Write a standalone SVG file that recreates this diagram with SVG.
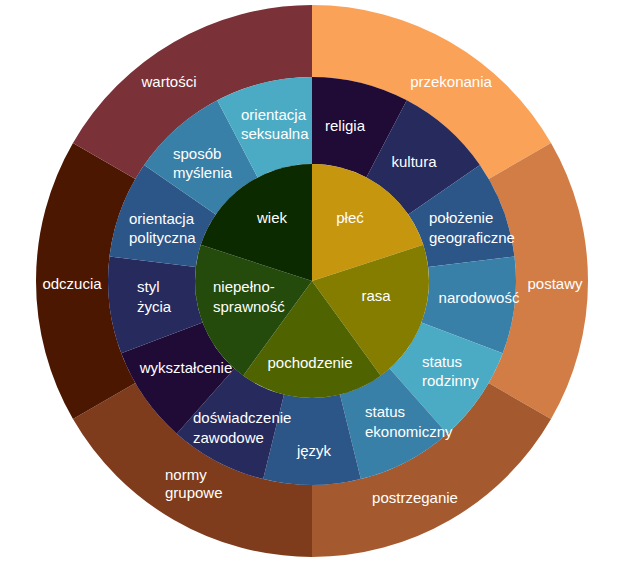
<svg xmlns="http://www.w3.org/2000/svg" width="638" height="562" viewBox="0 0 638 562">
<style>
text{font-family:"Liberation Sans",Arial,sans-serif;font-size:15px;fill:#ffffff}
.m{text-anchor:middle}
</style>
<rect width="638" height="562" fill="#ffffff"/>
<g id="outer-ring">
<g id="przekonania"><path d="M312 5 A276 276 0 0 1 551.023 143 L488.669 179 A204 204 0 0 0 312 77 Z" fill="#FBA259"/><text x="451" y="87" class="m">przekonania</text></g>
<g id="postawy"><path d="M551.023 143 A276 276 0 0 1 551.023 419 L488.669 383 A204 204 0 0 0 488.669 179 Z" fill="#D27D45"/><text x="555" y="289" class="m">postawy</text></g>
<g id="postrzeganie"><path d="M551.023 419 A276 276 0 0 1 312 557 L312 485 A204 204 0 0 0 488.669 383 Z" fill="#A45A2E"/><text x="415" y="503" class="m">postrzeganie</text></g>
<g id="normy-grupowe"><path d="M312 557 A276 276 0 0 1 72.977 419 L135.331 383 A204 204 0 0 0 312 485 Z" fill="#7E3C1D"/><text x="165" y="480">normy</text><text x="165" y="498">grupowe</text></g>
<g id="odczucia"><path d="M72.977 419 A276 276 0 0 1 72.977 143 L135.331 179 A204 204 0 0 0 135.331 383 Z" fill="#4C1700"/><text x="72" y="289" class="m">odczucia</text></g>
<g id="wartosci"><path d="M72.977 143 A276 276 0 0 1 312 5 L312 77 A204 204 0 0 0 135.331 179 Z" fill="#7B3138"/><text x="169" y="87" class="m">wartości</text></g>
</g>
<g id="middle-ring">
<g id="religia"><path d="M312 77 A204 204 0 0 1 406.80 100.37 L366.37 177.40 A117 117 0 0 0 312 164 Z" fill="#1F0B36"/><text x="345" y="131" class="m">religia</text></g>
<g id="kultura"><path d="M406.80 100.37 A204 204 0 0 1 479.89 165.11 L408.29 214.54 A117 117 0 0 0 366.37 177.40 Z" fill="#262A5C"/><text x="414" y="167" class="m">kultura</text></g>
<g id="polozenie-geograficzne"><path d="M479.89 165.11 A204 204 0 0 1 514.51 256.41 L428.15 266.90 A117 117 0 0 0 408.29 214.54 Z" fill="#2C5588"/><text x="429" y="223">położenie</text><text x="429" y="243">geograficzne</text></g>
<g id="narodowosc"><path d="M514.51 256.41 A204 204 0 0 1 502.74 353.34 L421.40 322.49 A117 117 0 0 0 428.15 266.90 Z" fill="#3980A8"/><text x="479" y="303" class="m">narodowość</text></g>
<g id="status-rodzinny"><path d="M502.74 353.34 A204 204 0 0 1 447.28 433.70 L389.59 368.58 A117 117 0 0 0 421.40 322.49 Z" fill="#4BABC5"/><text x="422" y="367">status</text><text x="422" y="386">rodzinny</text></g>
<g id="status-ekonomiczny"><path d="M447.28 433.70 A204 204 0 0 1 360.82 479.07 L340.00 394.60 A117 117 0 0 0 389.59 368.58 Z" fill="#3980A8"/><text x="365" y="417">status</text><text x="365" y="437">ekonomiczny</text></g>
<g id="jezyk"><path d="M360.82 479.07 A204 204 0 0 1 263.18 479.07 L284.00 394.60 A117 117 0 0 0 340.00 394.60 Z" fill="#2C5588"/><text x="314" y="456" class="m">język</text></g>
<g id="doswiadczenie-zawodowe"><path d="M263.18 479.07 A204 204 0 0 1 176.72 433.70 L234.41 368.58 A117 117 0 0 0 284.00 394.60 Z" fill="#262A5C"/><text x="193" y="423">doświadczenie</text><text x="193" y="443">zawodowe</text></g>
<g id="wyksztalcenie"><path d="M176.72 433.70 A204 204 0 0 1 121.26 353.34 L202.60 322.49 A117 117 0 0 0 234.41 368.58 Z" fill="#1F0B36"/><text x="186" y="373" class="m">wykształcenie</text></g>
<g id="styl-zycia"><path d="M121.26 353.34 A204 204 0 0 1 109.49 256.41 L195.85 266.90 A117 117 0 0 0 202.60 322.49 Z" fill="#262A5C"/><text x="137" y="292">styl</text><text x="137" y="312">życia</text></g>
<g id="orientacja-polityczna"><path d="M109.49 256.41 A204 204 0 0 1 144.11 165.11 L215.71 214.54 A117 117 0 0 0 195.85 266.90 Z" fill="#2C5588"/><text x="129" y="224">orientacja</text><text x="129" y="243">polityczna</text></g>
<g id="sposob-myslenia"><path d="M144.11 165.11 A204 204 0 0 1 217.20 100.37 L257.63 177.40 A117 117 0 0 0 215.71 214.54 Z" fill="#3980A8"/><text x="173" y="159">sposób</text><text x="173" y="178">myślenia</text></g>
<g id="orientacja-seksualna"><path d="M217.20 100.37 A204 204 0 0 1 312 77 L312 164 A117 117 0 0 0 257.63 177.40 Z" fill="#4BABC5"/><text x="241" y="120">orientacja</text><text x="241" y="139">seksualna</text></g>
</g>
<g id="inner-pie">
<g id="plec"><path d="M312 281 L312 164 A117 117 0 0 1 423.27 244.84 Z" fill="#C7960F"/><text x="350" y="223" class="m">płeć</text></g>
<g id="rasa"><path d="M312 281 L423.27 244.84 A117 117 0 0 1 380.77 375.66 Z" fill="#847D00"/><text x="376" y="301" class="m">rasa</text></g>
<g id="pochodzenie"><path d="M312 281 L380.77 375.66 A117 117 0 0 1 243.23 375.66 Z" fill="#4F6400"/><text x="310" y="368" class="m">pochodzenie</text></g>
<g id="niepelnosprawnosc"><path d="M312 281 L243.23 375.66 A117 117 0 0 1 200.73 244.84 Z" fill="#254B0C"/><text x="213" y="292">niepełno-</text><text x="213" y="312">sprawność</text></g>
<g id="wiek"><path d="M312 281 L200.73 244.84 A117 117 0 0 1 312 164 Z" fill="#0B2A00"/><text x="272" y="223" class="m">wiek</text></g>
</g>
<g id="connectors"/>
</svg>
